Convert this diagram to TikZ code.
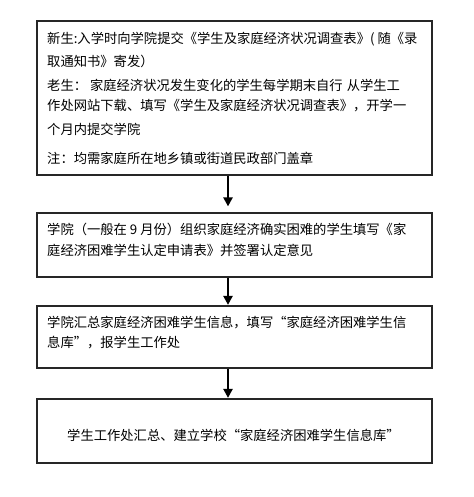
\documentclass[tikz,border=0pt]{standalone}
\usepackage{fontspec}
\setmainfont{Noto Sans CJK SC}
\usetikzlibrary{arrows.meta}
\tikzset{
  box/.style={draw=black!85, line width=1.2pt, rectangle, inner sep=0pt, minimum width=395pt},
  txt/.style={anchor=west, inner sep=0pt, font=\fontsize{13.3pt}{16pt}\selectfont, text=black},
  flow/.style={line width=2.6pt, -{Triangle[width=9pt,length=9pt]}}
}
\begin{document}
\begin{tikzpicture}[x=1pt,y=-1pt]
\useasboundingbox[fill=white] (0,0) rectangle (473,497);
\node[box, minimum height=154pt] (b1) at (234.5,98) {};
\node[box, minimum height=64pt] (b2) at (234.5,245) {};
\node[box, minimum height=62pt] (b3) at (234.5,337) {};
\node[box, minimum height=64pt] (b4) at (234.5,431) {};
\node[txt] (t1) at (47,39) {新生:入学时向学院提交《学生及家庭经济状况调查表》( 随《录};
\node[txt] (t2) at (47,61.5) {取通知书》寄发）};
\node[txt] (t3) at (47,85) {老生：\hspace{3pt}家庭经济状况发生变化的学生每学期末自行\hspace{4pt}从学生工};
\node[txt] (t4) at (47,105.5) {作处网站下载、填写《学生及家庭经济状况调查表》，开学一};
\node[txt] (t5) at (47,129) {个月内提交学院};
\node[txt] (t6) at (47,158) {注：均需家庭所在地乡镇或街道民政部门盖章};
\node[txt] (t7) at (47,229) {学院（一般在 9 月份）组织家庭经济确实困难的学生填写《家};
\node[txt] (t8) at (47,250) {庭经济困难学生认定申请表》并签署认定意见};
\node[txt] (t9) at (47,323) {学院汇总家庭经济困难学生信息，填写“家庭经济困难学生信};
\node[txt] (t10) at (47,343) {息库”，报学生工作处};
\node[txt] (t11) at (67,435) {学生工作处汇总、建立学校“家庭经济困难学生信息库”};
\draw[flow] (b1.south -| 228,0) -- ([yshift=6pt]b2.north -| 228,0);
\draw[flow] (b2.south -| 228,0) -- ([yshift=0.5pt]b3.north -| 228,0);
\draw[flow] (b3.south -| 228,0) -- ([yshift=0.5pt]b4.north -| 228,0);
\end{tikzpicture}
\end{document}
